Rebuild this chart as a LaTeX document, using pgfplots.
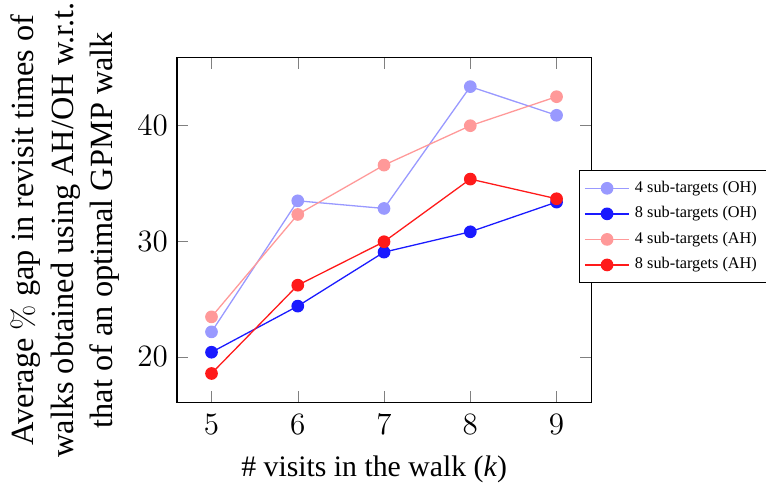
\documentclass[border=0pt]{standalone}
\usepackage{pgfplots}
\pgfplotsset{compat=1.18}
\usepackage[no-math]{fontspec}
\setmainfont{Liberation Serif}
\definecolor{lblue}{RGB}{153,153,255}
\definecolor{dblue}{RGB}{26,26,255}
\definecolor{lred}{RGB}{255,153,153}
\definecolor{dred}{RGB}{255,26,26}
\begin{document}
\begin{tikzpicture}
\begin{axis}[
  scale only axis,
  width=160pt, height=133pt,
  xmin=4.6, xmax=9.4, ymin=16.08, ymax=45.86,
  xtick={5,6,7,8,9}, ytick={20,30,40},
  xlabel={\# visits in the walk (\textit{k})},
  ylabel={Average $\%$ gap in revisit times of\\walks obtained using AH/OH w.r.t.\\that of an optimal GPMP walk},
  ylabel style={align=center, font=\fontsize{12.5}{15.3}\selectfont},
  xlabel style={font=\fontsize{11.5}{13.5}\selectfont, yshift=-1.5pt, xshift=-3.8pt},
  tick label style={font=\fontsize{12.4}{14}\selectfont},
  xticklabel style={yshift=-1.2pt},
  legend cell align=left,
  legend style={at={(0.97,0.51)}, anchor=west, font=\fontsize{6.3}{7.5}\selectfont, row sep=0pt, inner sep=2pt},
  every axis plot/.append style={line width=0.5pt, mark=*, mark size=2.2pt},
]
\addplot[color=lblue, mark options={fill=lblue, draw=lblue}] coordinates {(5,22.16) (6,33.5) (7,32.84) (8,43.38) (9,40.9)};
\addlegendentry{4 sub-targets (OH)}
\addplot[color=dblue, mark options={fill=dblue, draw=dblue}] coordinates {(5,20.4) (6,24.39) (7,29.06) (8,30.82) (9,33.39)};
\addlegendentry{8 sub-targets (OH)}
\addplot[color=lred, mark options={fill=lred, draw=lred}] coordinates {(5,23.46) (6,32.32) (7,36.59) (8,40.0) (9,42.51)};
\addlegendentry{4 sub-targets (AH)}
\addplot[color=dred, mark options={fill=dred, draw=dred}] coordinates {(5,18.56) (6,26.2) (7,29.96) (8,35.38) (9,33.68)};
\addlegendentry{8 sub-targets (AH)}
\end{axis}
\pgfresetboundingbox
\path[use as bounding box] ([xshift=-68.4pt,yshift=-32.5pt]current axis.south west) rectangle ([xshift=67.6pt,yshift=22.4pt]current axis.north east);
\end{tikzpicture}
\end{document}
